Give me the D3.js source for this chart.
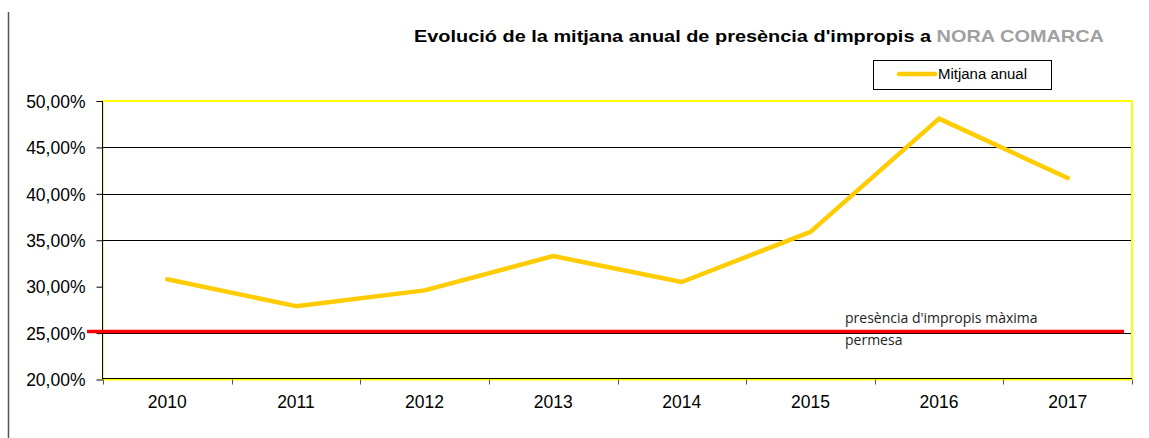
<!DOCTYPE html>
<html>
    <head>
        <meta charset="utf-8">
        <style>
            html, body {
                margin: 0px;
                padding: 0px;
                background-color: #fff;
                font-family: "Liberation Sans", Arial, sans-serif;
            }
            svg { display: block; }
            .axis text { fill: #000; font-size: 17.5px; font-family: "Liberation Sans", Arial, sans-serif; }
            .yAxis line { stroke: #000; }
            .xAxis line { stroke: #555; }
            .axis .domain { stroke: none; }
        </style>
        <script src="https://cdn.jsdelivr.net/npm/d3@7"></script>
    </head>
    <body>
        <div id="main"></div>

        <script>
            // data
            var years = ["2010", "2011", "2012", "2013", "2014", "2015", "2016", "2017"];
            var mitjana = [30.8, 27.9, 29.6, 33.3, 30.5, 35.9, 48.1, 41.7];
            var yTicks = [20, 25, 30, 35, 40, 45, 50];
            var gridValues = [25, 35, 40, 45];
            var limitValue = 25;
            var titleText = "Evolució de la mitjana anual de presència d'impropis a ";
            var titleZone = "NORA COMARCA";
            var legendText = "Mitjana anual";
            var limitText = ["presència d'impropis màxima", "permesa"];

            var width = 1149;
            var height = 438;
            var plotLeft = 103, plotRight = 1132, plotTop = 101, plotBottom = 379.5;

            var svg = d3.select("#main").append("svg")
                .attr("width", width)
                .attr("height", height);

            var x = d3.scaleBand().domain(years).range([plotLeft, plotRight]).padding(0);
            var y = d3.scaleLinear().domain([20, 50]).range([plotBottom, plotTop]);

            // gray line on the left edge
            svg.append("line")
                .attr("x1", 8.5).attr("x2", 8.5)
                .attr("y1", 12).attr("y2", height)
                .attr("stroke", "#555").attr("stroke-width", 1.5);

            // plot frame
            svg.append("rect")
                .attr("x", plotLeft).attr("y", plotTop)
                .attr("width", plotRight - plotLeft).attr("height", plotBottom - plotTop)
                .attr("fill", "none").attr("stroke", "#ffff00").attr("stroke-width", 2);

            svg.selectAll(".grid")
                .data(gridValues)
                .enter().append("line")
                .attr("class", "grid")
                .attr("x1", plotLeft).attr("x2", plotRight - 1)
                .attr("y1", function(d) { return Math.round(y(d)) + 0.5; })
                .attr("y2", function(d) { return Math.round(y(d)) + 0.5; })
                .attr("stroke", "#000").attr("stroke-width", 1);

            // black axis lines on top of the yellow frame
            svg.append("line")
                .attr("x1", plotLeft - 0.5).attr("x2", plotLeft - 0.5)
                .attr("y1", plotTop).attr("y2", plotBottom)
                .attr("stroke", "#000");
            svg.append("line")
                .attr("x1", plotLeft).attr("x2", plotRight)
                .attr("y1", plotBottom - 1).attr("y2", plotBottom - 1)
                .attr("stroke", "#000");

            svg.append("g")
                .attr("class", "axis yAxis")
                .attr("transform", "translate(" + (plotLeft - 0.5) + ",0)")
                .call(d3.axisLeft(y)
                    .tickValues(yTicks)
                    .tickSize(6)
                    .tickPadding(11)
                    .tickFormat(function(d) { return d3.format(".2f")(d).replace(".", ",") + "%"; }))
                .selectAll("text").attr("dy", "0.36em");

            var xAxis = svg.append("g")
                .attr("class", "axis xAxis")
                .attr("transform", "translate(0," + plotBottom + ")")
                .call(d3.axisBottom(x).tickSize(0).tickPadding(16));
            xAxis.selectAll("text").attr("dy", "0.71em");

            // tick marks between categories
            var bounds = years.map(function(d) { return x(d); }).concat([x.range()[1]]);
            xAxis.selectAll(".sep")
                .data(bounds)
                .enter().append("line")
                .attr("class", "sep")
                .attr("x1", function(d) { return Math.round(d) + 0.5; })
                .attr("x2", function(d) { return Math.round(d) + 0.5; })
                .attr("y1", 0).attr("y2", 5)
                .attr("stroke", "#555");

            // limit line
            svg.append("line")
                .attr("x1", 87).attr("x2", 1124)
                .attr("y1", y(limitValue) - 1.5).attr("y2", y(limitValue) - 1.5)
                .attr("stroke", "#ff0000").attr("stroke-width", 3.5);

            var lim = svg.append("text")
                .attr("x", 845).attr("y", 323)
                .style("font-family", "'Open Sans', sans-serif")
                .style("font-size", "14px")
                .attr("fill", "#222");
            lim.selectAll("tspan")
                .data(limitText)
                .enter().append("tspan")
                .attr("x", 845)
                .attr("dy", function(d, i) { return i ? 22 : 0; })
                .text(function(d) { return d; });

            // series
            var line = d3.line()
                .x(function(d, i) { return x(years[i]) + x.bandwidth() / 2; })
                .y(function(d) { return y(d); });

            svg.append("path")
                .datum(mitjana)
                .attr("d", line)
                .attr("fill", "none")
                .attr("stroke", "#ffcc00")
                .attr("stroke-width", 4.5)
                .attr("stroke-linejoin", "round")
                .attr("stroke-linecap", "round");

            // title
            var title = svg.append("text")
                .attr("x", 414).attr("y", 42)
                .attr("textLength", 690)
                .attr("lengthAdjust", "spacingAndGlyphs")
                .style("font-size", "17px")
                .style("font-weight", "bold");
            title.append("tspan").attr("fill", "#000").text(titleText);
            title.append("tspan").attr("fill", "#a0a0a0").text(titleZone);

            // legend
            var legend = svg.append("g").attr("transform", "translate(873,60)");
            legend.append("rect")
                .attr("x", 0.5).attr("y", 0.5)
                .attr("width", 178).attr("height", 29)
                .attr("fill", "#fff").attr("stroke", "#000");
            legend.append("line")
                .attr("x1", 26).attr("x2", 62)
                .attr("y1", 14).attr("y2", 14)
                .attr("stroke", "#ffcc00").attr("stroke-width", 4.5)
                .attr("stroke-linecap", "round");
            legend.append("text")
                .attr("x", 65).attr("y", 19)
                .attr("textLength", 89)
                .attr("lengthAdjust", "spacingAndGlyphs")
                .style("font-size", "14px")
                .text(legendText);
        </script>
    </body>
</html>
